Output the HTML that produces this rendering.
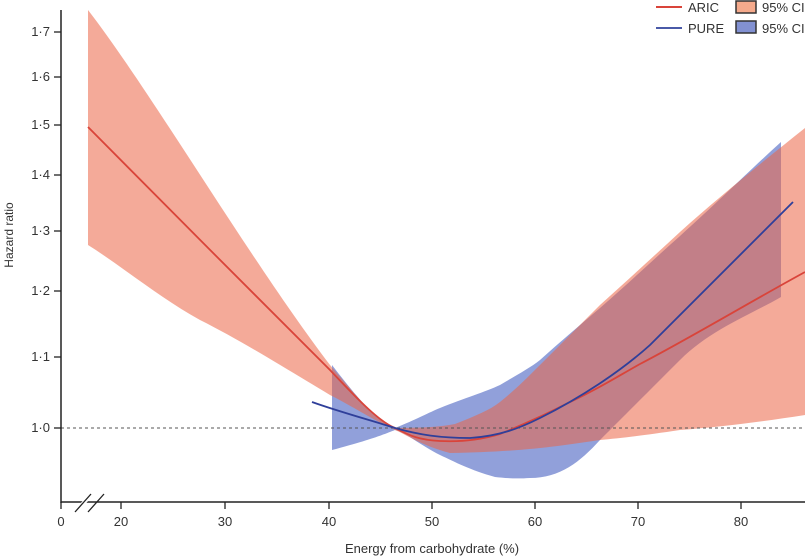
<!DOCTYPE html>
<html><head><style>
body{margin:0;background:#fff;}
svg{display:block;font-family:"Liberation Sans",sans-serif;}
</style></head><body>
<svg width="805" height="556" viewBox="0 0 805 556">
<rect width="805" height="556" fill="#fff"/>
<!-- PURE band -->
<path d="M332,365 C355,395 380,425 395,428 C415,420 430,412 440,408 C465,398 485,392 500,385 C515,376 530,368 540,360 C560,342 580,325 600,308 C630,282 655,258 680,236 C720,200 750,170 781,142 L781,297 C750,315 710,330 680,360 C650,390 620,420 600,440 C580,462 560,478 530,478 C515,479 505,478 495,477 C470,470 455,462 440,455 C420,445 405,432 395,430 C385,434 370,440 332,450 Z" fill="rgb(145,160,218)"/>
<!-- ARIC band -->
<path d="M88,10 C150,90 250,260 330,365 C360,400 380,425 395,428 C420,428 440,427 455,424 C475,416 490,410 500,402 C515,390 528,377 540,365 C560,345 580,325 600,305 C630,278 655,255 680,232 C720,196 760,164 805,128 L805,415 C760,422 720,427 680,430 C640,436 620,438 600,440 C560,446 520,452 450,453 C420,445 405,434 395,430 C370,418 350,405 330,395 C280,365 240,340 200,320 C160,298 120,265 88,245 Z" fill="rgb(235,100,70)" fill-opacity="0.55"/>
<!-- reference line -->
<line x1="61" y1="428" x2="805" y2="428" stroke="#555" stroke-width="1" stroke-dasharray="3,3"/>
<!-- ARIC line -->
<path d="M88,127 C160,200 260,300 330,370 C360,402 380,422 395,428 C410,436 420,440 440,441 C460,442 480,440 500,434 C530,422 550,412 570,402 C600,388 620,375 640,364 C690,338 750,302 805,272" fill="none" stroke="#d9443a" stroke-width="1.8"/>
<!-- PURE line -->
<path d="M312,402 C340,412 370,420 395,428 C420,435 440,438 470,438 C500,436 520,428 540,418 C580,398 620,372 650,345 C690,305 730,265 760,235 C775,220 785,210 793,202" fill="none" stroke="#2f3f9a" stroke-width="1.8"/>
<!-- axes -->
<line x1="61" y1="10" x2="61" y2="503" stroke="#222" stroke-width="1.5"/>
<line x1="61" y1="502" x2="805" y2="502" stroke="#222" stroke-width="1.5"/>
<g stroke="#fff" stroke-width="4"><line x1="76" y1="511" x2="92" y2="494"/></g>
<g stroke="#222" stroke-width="1.3"><line x1="75" y1="512" x2="91" y2="494"/><line x1="88" y1="512" x2="104" y2="494"/></g>
<g stroke="#222" stroke-width="1.3">
<line x1="61" y1="502" x2="61" y2="509"/>
<line x1="121" y1="502" x2="121" y2="509"/><line x1="225" y1="502" x2="225" y2="509"/><line x1="329" y1="502" x2="329" y2="509"/><line x1="432" y1="502" x2="432" y2="509"/><line x1="535" y1="502" x2="535" y2="509"/><line x1="638" y1="502" x2="638" y2="509"/><line x1="741" y1="502" x2="741" y2="509"/>
<line x1="54" y1="428" x2="61" y2="428"/><line x1="54" y1="357" x2="61" y2="357"/><line x1="54" y1="291" x2="61" y2="291"/><line x1="54" y1="231" x2="61" y2="231"/><line x1="54" y1="175" x2="61" y2="175"/><line x1="54" y1="125" x2="61" y2="125"/><line x1="54" y1="77" x2="61" y2="77"/><line x1="54" y1="32" x2="61" y2="32"/>
</g>
<g font-size="13" fill="#333" text-anchor="middle">
<text x="61" y="526">0</text><text x="121" y="526">20</text><text x="225" y="526">30</text><text x="329" y="526">40</text><text x="432" y="526">50</text><text x="535" y="526">60</text><text x="638" y="526">70</text><text x="741" y="526">80</text>
</g>
<g font-size="13" fill="#333" text-anchor="end">
<text x="50" y="432">1·0</text><text x="50" y="361">1·1</text><text x="50" y="295">1·2</text><text x="50" y="235">1·3</text><text x="50" y="179">1·4</text><text x="50" y="129">1·5</text><text x="50" y="81">1·6</text><text x="50" y="36">1·7</text>
</g>
<text x="432" y="553" font-size="13" fill="#333" text-anchor="middle">Energy from carbohydrate (%)</text>
<text transform="translate(13,235) rotate(-90)" font-size="12" fill="#333" text-anchor="middle">Hazard ratio</text>
<!-- legend -->
<line x1="656" y1="7" x2="682" y2="7" stroke="#d9443a" stroke-width="2"/>
<text x="688" y="12" font-size="13" fill="#333">ARIC</text>
<rect x="736" y="1" width="20" height="12" fill="rgb(245,170,140)" stroke="#333" stroke-width="1.5"/>
<text x="762" y="12" font-size="13" fill="#333">95% CI</text>
<line x1="656" y1="28" x2="682" y2="28" stroke="#4a5aa8" stroke-width="2"/>
<text x="688" y="33" font-size="13" fill="#333">PURE</text>
<rect x="736" y="21" width="20" height="12" fill="rgb(130,145,210)" stroke="#333" stroke-width="1.5"/>
<text x="762" y="33" font-size="13" fill="#333">95% CI</text>
</svg>
</body></html>
